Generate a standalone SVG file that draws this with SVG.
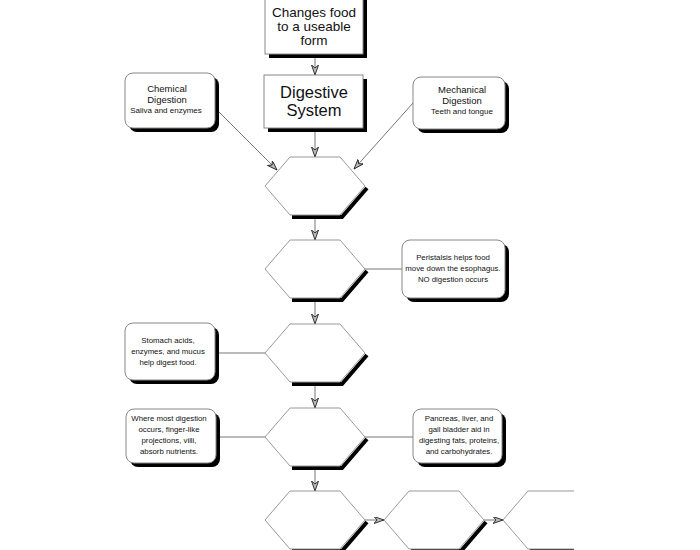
<svg xmlns="http://www.w3.org/2000/svg" xmlns:xlink="http://www.w3.org/1999/xlink" width="700" height="550" viewBox="0 0 700 550">
<style>
text{font-family:"Liberation Sans",Arial,sans-serif;fill:#111;text-anchor:middle}
.big{font-size:13.5px}
.huge{font-size:16.5px}
.t{font-size:9.5px}
.s{font-size:8px}
.x{font-size:7.8px}
.box{fill:#fff;stroke:#888;stroke-width:1}
.sh{fill:#000}
.hex{fill:#fff;stroke:#999;stroke-width:1}
.hsh{fill:none;stroke:#000;stroke-width:4;stroke-linejoin:miter}
.c{fill:none;stroke:#777;stroke-width:1}
.a{marker-end:url(#arr)}
</style>
<defs>
<marker id="arr" markerUnits="userSpaceOnUse" markerWidth="12" markerHeight="10" refX="10" refY="3.5" orient="auto">
<path d="M0,0 L10,3.5 L0,7 L3,3.5 Z" fill="#bbb" stroke="#222" stroke-width="0.9"/>
</marker>
<g id="hexshape">
<polyline class="hsh" points="-23,31 27,31 52,2"/>
<polygon class="hex" points="-50,0 -25,-29 25,-29 50,0 25,29 -25,29"/>
</g>
<clipPath id="clip7"><rect x="0" y="0" width="574" height="550"/></clipPath>
</defs>
<rect width="700" height="550" fill="#fff"/>

<g id="connectors">
<line class="c a" x1="315" y1="54" x2="315" y2="75"/>
<line class="c a" x1="315" y1="128" x2="315" y2="157"/>
<line class="c a" x1="215" y1="108" x2="277" y2="170"/>
<line class="c a" x1="413" y1="103" x2="354" y2="169"/>
<line class="c a" x1="315" y1="215" x2="315" y2="240"/>
<line class="c" x1="365" y1="269" x2="402" y2="269"/>
<line class="c a" x1="315" y1="298" x2="315" y2="324"/>
<line class="c" x1="215" y1="353" x2="265" y2="353"/>
<line class="c a" x1="315" y1="382" x2="315" y2="408"/>
<line class="c" x1="217" y1="437" x2="265" y2="437"/>
<line class="c" x1="365" y1="437" x2="413" y2="437"/>
<line class="c a" x1="315" y1="466" x2="315" y2="491"/>
<line class="c a" x1="365" y1="520" x2="384" y2="520"/>
<line class="c a" x1="484" y1="520" x2="503" y2="520"/>
</g>

<g id="top-box">
<rect class="sh" x="269" y="-6" width="98" height="64"/>
<rect class="box" x="265" y="-10" width="98" height="64"/>
<text class="big" x="314" y="17">Changes food</text>
<text class="big" x="314" y="31">to a useable</text>
<text class="big" x="314" y="45">form</text>
</g>

<g id="digestive-system">
<rect class="sh" x="268" y="79" width="99" height="53"/>
<rect class="box" x="264" y="75" width="99" height="53"/>
<text class="huge" x="314" y="98">Digestive</text>
<text class="huge" x="314" y="116">System</text>
</g>

<g id="chemical">
<rect class="sh" x="129" y="77" width="90" height="55" rx="8"/>
<rect class="box" x="125" y="73" width="90" height="55" rx="8"/>
<text class="t" x="167" y="92">Chemical</text>
<text class="t" x="167" y="102.5">Digestion</text>
<text class="s" x="166" y="113">Saliva and enzymes</text>
</g>

<g id="mechanical">
<rect class="sh" x="417" y="81" width="92" height="52" rx="8"/>
<rect class="box" x="413" y="77" width="92" height="52" rx="8"/>
<text class="t" x="462" y="93">Mechanical</text>
<text class="t" x="462" y="103.5">Digestion</text>
<text class="s" x="462" y="114">Teeth and tongue</text>
</g>

<g id="hex1" transform="translate(315,186)"><use href="#hexshape" xlink:href="#hexshape"/></g>
<g id="hex2" transform="translate(315,269)"><use href="#hexshape" xlink:href="#hexshape"/></g>
<g id="hex3" transform="translate(315,353)"><use href="#hexshape" xlink:href="#hexshape"/></g>
<g id="hex4" transform="translate(315,437)"><use href="#hexshape" xlink:href="#hexshape"/></g>
<g id="hex5" transform="translate(315,520)"><use href="#hexshape" xlink:href="#hexshape"/></g>
<g id="hex6" transform="translate(434,520)"><use href="#hexshape" xlink:href="#hexshape"/></g>
<g id="hex7" clip-path="url(#clip7)"><g transform="translate(553,520)"><use href="#hexshape" xlink:href="#hexshape"/></g></g>

<g id="peristalsis">
<rect class="sh" x="406" y="244" width="103" height="58" rx="8"/>
<rect class="box" x="402" y="240" width="103" height="58" rx="8"/>
<text class="x" x="453" y="260">Peristalsis helps food</text>
<text class="x" x="453" y="271">move down the esophagus.</text>
<text class="x" x="453" y="282">NO digestion occurs</text>
</g>

<g id="stomach">
<rect class="sh" x="129" y="327" width="90" height="57" rx="8"/>
<rect class="box" x="125" y="323" width="90" height="57" rx="8"/>
<text class="x" x="168" y="343">Stomach acids,</text>
<text class="x" x="168" y="354">enzymes, and mucus</text>
<text class="x" x="168" y="365">help digest food.</text>
</g>

<g id="small-intestine">
<rect class="sh" x="130" y="413" width="90" height="54" rx="8"/>
<rect class="box" x="126" y="409" width="90" height="54" rx="8"/>
<text class="x" x="169" y="421">Where most digestion</text>
<text class="x" x="169" y="432">occurs, finger-like</text>
<text class="x" x="169" y="443">projections, villi,</text>
<text class="x" x="169" y="454">absorb nutrients.</text>
</g>

<g id="pancreas">
<rect class="sh" x="417" y="413" width="89" height="54" rx="8"/>
<rect class="box" x="413" y="409" width="89" height="54" rx="8"/>
<text class="x" x="459" y="421">Pancreas, liver, and</text>
<text class="x" x="459" y="432">gall bladder aid in</text>
<text class="x" x="459" y="443">digesting fats, proteins,</text>
<text class="x" x="459" y="454">and carbohydrates.</text>
</g>
</svg>
